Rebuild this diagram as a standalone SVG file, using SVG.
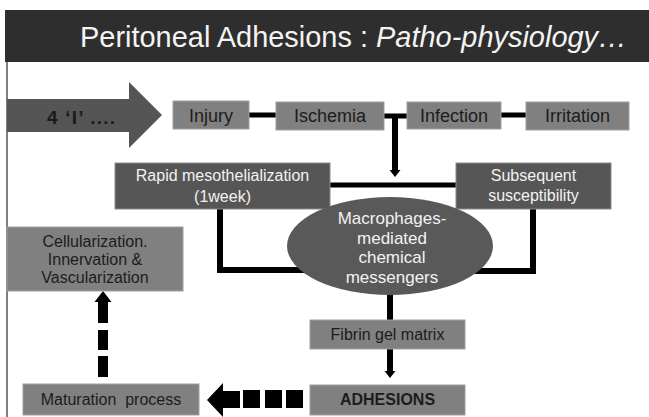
<svg xmlns="http://www.w3.org/2000/svg" width="649" height="417" viewBox="0 0 649 417">
<style>
text{font-family:"Liberation Sans",Arial,sans-serif;text-anchor:middle}
.lt{fill:#808080;stroke:#a0a0a0;stroke-width:1}
.dk{fill:#565656;stroke:#8a8a8a;stroke-width:1}
.tl{font-size:18px;fill:#1c1c1c}
.td{font-size:16px;fill:#1c1c1c}
.tw{font-size:16px;fill:#f2f2f2}
.te{font-size:17px;fill:#f2f2f2}
.ln{stroke:#000;stroke-width:5;fill:none}
.ln6{stroke:#000;stroke-width:6;fill:none}
</style>
<rect x="0" y="0" width="649" height="417" fill="#fff"/>
<g id="title">
<rect x="5" y="10" width="644" height="52" fill="#2e2e2e"/>
<text x="80" y="47" textLength="547" lengthAdjust="spacingAndGlyphs" style="text-anchor:start;font-size:29px;fill:#f4f4f4">Peritoneal Adhesions : <tspan font-style="italic">Patho-physiology…</tspan></text>
</g>
<line x1="7" y1="62" x2="7" y2="417" stroke="#555" stroke-width="1.5"/>
<g id="connectors">
<line class="ln" x1="249" y1="115" x2="276" y2="115"/>
<line class="ln" x1="384" y1="116" x2="407" y2="116"/>
<line class="ln" x1="501" y1="115" x2="526" y2="115"/>
<line class="ln6" x1="395" y1="116" x2="395" y2="171"/>
<polygon points="389.5,170 400.5,170 395,177" fill="#000"/>
<line class="ln" x1="330" y1="185" x2="456" y2="185"/>
<polyline class="ln6" points="220,209 220,270 330,270"/>
<polyline class="ln6" points="533,209 533,271 460,271"/>
<line class="ln6" x1="390" y1="290" x2="390" y2="320"/>
<line class="ln6" x1="390" y1="349" x2="390" y2="372"/>
<polygon points="384.5,371 395.5,371 390,378" fill="#000"/>
<polygon points="207,400 223,383 223,391 240,391 240,408 223,408 223,417" fill="#000"/>
<rect x="243" y="390" width="17" height="18" fill="#000"/>
<rect x="265" y="390" width="17" height="18" fill="#000"/>
<rect x="286" y="390" width="17" height="18" fill="#000"/>
<polygon points="103,291 111.5,302 108,302 108,323 98,323 98,302 94.5,302" fill="#000"/>
<rect x="98" y="330" width="10" height="20" fill="#000"/>
<rect x="98" y="356" width="10" height="21" fill="#000"/>
</g>
<g id="four-i">
<polygon points="7,99 129,99 129,82 162,115 129,148 129,132 7,132" fill="#555"/>
<text x="81" y="124" textLength="68" lengthAdjust="spacing" style="font-size:19px;font-weight:bold;fill:#1a1a1a">4 ‘I’ ....</text>
</g>
<g id="injury"><rect class="lt" x="173" y="101" width="76" height="28"/><text class="tl" x="211" y="122">Injury</text></g>
<g id="ischemia"><rect class="lt" x="276" y="102" width="108" height="28"/><text class="tl" x="330" y="122">Ischemia</text></g>
<g id="infection"><rect class="lt" x="407" y="102" width="94" height="27"/><text class="tl" x="454" y="122">Infection</text></g>
<g id="irritation"><rect class="lt" x="526" y="102" width="103" height="28"/><text class="tl" x="577.5" y="122">Irritation</text></g>
<g id="rapid"><rect class="dk" x="115" y="163" width="215" height="46"/><text class="tw" x="222.5" y="181">Rapid mesothelialization</text><text class="tw" x="222.5" y="202">(1week)</text></g>
<g id="subsequent"><rect class="dk" x="456" y="163" width="155" height="46"/><text class="tw" x="533.5" y="181">Subsequent</text><text class="tw" x="533.5" y="201">susceptibility</text></g>
<g id="macrophages"><ellipse cx="390" cy="246" rx="103" ry="49" fill="#595959"/><text class="te" x="392" y="224">Macrophages-</text><text class="te" x="392" y="244">mediated</text><text class="te" x="392" y="263">chemical</text><text class="te" x="392" y="283">messengers</text></g>
<g id="fibrin"><rect class="lt" x="310" y="320" width="155" height="29"/><text class="td" x="387.5" y="340">Fibrin gel matrix</text></g>
<g id="adhesions"><rect class="lt" x="310" y="385" width="155" height="30"/><text class="td" x="387.5" y="405" font-weight="bold">ADHESIONS</text></g>
<g id="maturation"><rect class="lt" x="23" y="384" width="176" height="31"/><text class="td" x="111" y="405" xml:space="preserve">Maturation  process</text></g>
<g id="cellularization"><rect class="lt" x="7" y="227" width="176" height="64"/><text class="td" x="95" y="247">Cellularization.</text><text class="td" x="95" y="265">Innervation &amp;</text><text class="td" x="95" y="283">Vascularization</text></g>
</svg>
